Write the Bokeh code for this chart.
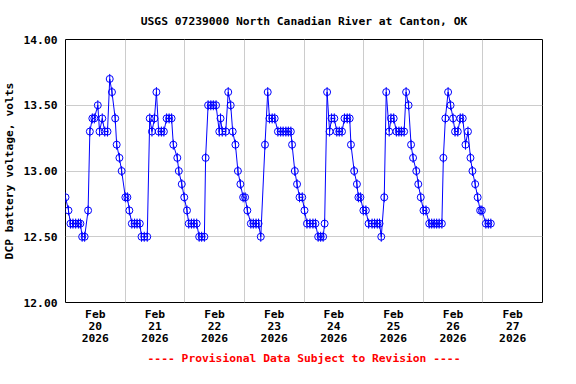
from bokeh.plotting import figure
from bokeh.models import FixedTicker, Range1d, Title, PrintfTickFormatter, ColumnDataSource
from bokeh.embed import file_html
from bokeh.resources import INLINE
import math

# Hours since 2026-02-19 00:00 (local) and DCP battery voltage
hours = [0.0, 1.2, 2.0, 3.0, 4.1, 5.2, 6.0, 6.7, 7.7, 9.1, 9.8, 10.8, 11.6, 13.0, 13.7, 14.8, 15.8, 16.9,
         17.8, 18.7, 20.0, 20.6, 21.7, 22.6, 24.1, 24.9, 25.7, 26.7, 27.8, 28.8, 29.9, 30.6, 31.7, 32.9,
         33.9, 34.8, 35.8, 36.6, 37.5, 38.6, 39.6, 40.7, 41.7, 42.7, 43.4, 45.0, 45.6, 46.8, 47.8, 48.9,
         49.6, 50.7, 51.7, 52.8, 53.8, 54.8, 55.9, 56.4, 57.4, 58.5, 59.5, 60.6, 61.9, 62.4, 63.1, 64.5,
         65.5, 66.5, 67.3, 68.4, 69.4, 70.4, 71.5, 72.3, 73.2, 74.6, 75.6, 76.7, 77.7, 78.6, 80.3, 81.4,
         82.1, 83.2, 84.2, 85.5, 86.6, 87.6, 88.7, 89.7, 90.7, 91.2, 92.3, 93.2, 94.2, 95.3, 96.2, 97.2,
         98.4, 99.6, 100.6, 101.7, 102.7, 103.7, 104.3, 105.3, 106.3, 107.1, 108.2, 109.2, 110.2, 111.3,
         112.3, 113.4, 114.4, 114.9, 116.2, 117.3, 117.9, 118.7, 119.9, 120.9, 122.0, 123.4, 124.4, 125.5,
         126.4, 127.1, 128.3, 129.1, 130.3, 131.0, 132.1, 133.2, 134.2, 135.2, 136.3, 137.1, 138.1, 139.1,
         139.9, 141.2, 142.0, 143.0, 144.1, 145.1, 146.4, 147.4, 148.4, 149.4, 150.4, 151.5, 152.1, 152.9,
         154.0, 155.0, 156.0, 156.8, 157.9, 158.9, 159.9, 161.0, 162.0, 163.0, 163.8, 164.9, 165.9, 166.9,
         167.6, 169.2, 170.2, 171.2]
volts = [12.8, 12.7, 12.6, 12.6, 12.6, 12.6, 12.6, 12.5, 12.5, 12.7, 13.3, 13.4, 13.4, 13.5, 13.3, 13.4, 13.3, 13.3,
         13.7, 13.6, 13.4, 13.2, 13.1, 13.0, 12.8, 12.8, 12.7, 12.6, 12.6, 12.6, 12.6, 12.5, 12.5, 12.5,
         13.4, 13.3, 13.4, 13.6, 13.3, 13.3, 13.3, 13.4, 13.4, 13.4, 13.2, 13.1, 13.0, 12.9, 12.8, 12.7,
         12.6, 12.6, 12.6, 12.6, 12.5, 12.5, 12.5, 13.1, 13.5, 13.5, 13.5, 13.5, 13.3, 13.4, 13.3, 13.3,
         13.6, 13.5, 13.3, 13.2, 13.0, 12.9, 12.8, 12.8, 12.7, 12.6, 12.6, 12.6, 12.6, 12.5, 13.2, 13.6,
         13.4, 13.4, 13.4, 13.3, 13.3, 13.3, 13.3, 13.3, 13.3, 13.2, 13.0, 12.9, 12.8, 12.8, 12.7, 12.6,
         12.6, 12.6, 12.6, 12.5, 12.5, 12.5, 12.6, 13.6, 13.3, 13.4, 13.4, 13.3, 13.3, 13.3,
         13.4, 13.4, 13.4, 13.2, 13.0, 12.9, 12.8, 12.8, 12.7, 12.7, 12.6, 12.6, 12.6, 12.6,
         12.6, 12.5, 12.8, 13.6, 13.3, 13.4, 13.4, 13.3, 13.3, 13.3, 13.3, 13.6, 13.5, 13.2,
         13.1, 13.0, 12.9, 12.8, 12.7, 12.7, 12.6, 12.6, 12.6, 12.6, 12.6, 12.6, 13.1, 13.4,
         13.6, 13.5, 13.4, 13.3, 13.3, 13.4, 13.4, 13.2, 13.3, 13.1, 13.0, 12.9, 12.8, 12.7,
         12.7, 12.6, 12.6, 12.6]

x_start, x_end = 0, 192          # Feb 19 00:00 .. Feb 27 00:00
grid_hours = [24, 48, 72, 96, 120, 144, 168]
label_hours = [12, 36, 60, 84, 108, 132, 156, 180]
label_texts = ["Feb\n20\n2026", "Feb\n21\n2026", "Feb\n22\n2026", "Feb\n23\n2026",
               "Feb\n24\n2026", "Feb\n25\n2026", "Feb\n26\n2026", "Feb\n27\n2026"]
y_ticks = [12.0, 12.5, 13.0, 13.5, 14.0]

title_text = "USGS 07239000 North Canadian River at Canton, OK"
y_label = "DCP battery voltage, volts"
footer_text = "---- Provisional Data Subject to Revision ----"

FONT = "DejaVu Sans Mono"
FS = "11.3px"
BLUE = "#0000ff"

p = figure(width=560, height=368, output_backend="svg", toolbar_location=None,
           x_range=Range1d(x_start, x_end), y_range=Range1d(12, 14),
           min_border_left=64, min_border_right=18, min_border_top=39, min_border_bottom=66,
           background_fill_color="white", border_fill_color="white")

p.title.text = title_text
p.title.align = "center"
p.title.text_font = FONT
p.title.text_font_size = FS
p.title.text_font_style = "bold"
p.title.text_color = "black"
p.title.standoff = 24

src = ColumnDataSource(dict(x=hours, y=volts))
p.line("x", "y", source=src, line_color=BLUE, line_width=1)
p.scatter("x", "y", source=src, marker="circle", size=7, line_color=BLUE, fill_color=None, line_width=1)
p.scatter("x", "y", source=src, marker="dash", size=10, angle=math.pi / 2, line_color=BLUE, line_width=1)

# axes
p.xaxis.ticker = FixedTicker(ticks=label_hours)
p.xaxis.major_label_overrides = {h: t for h, t in zip(label_hours, label_texts)}
p.yaxis.ticker = FixedTicker(ticks=y_ticks)
p.yaxis.formatter = PrintfTickFormatter(format="%.2f")
p.yaxis.axis_label = y_label
p.yaxis.axis_label_standoff = 4

for ax in (p.xaxis, p.yaxis):
    ax.axis_line_color = None
    ax.major_tick_line_color = None
    ax.minor_tick_line_color = None
    ax.major_tick_out = 0
    ax.major_tick_in = 0
    ax.minor_tick_out = 0
    ax.minor_tick_in = 0
    ax.major_label_text_font = FONT
    ax.major_label_text_font_size = FS
    ax.major_label_text_font_style = "bold"
    ax.major_label_text_color = "black"
    ax.major_label_text_line_height = 0.93
    ax.axis_label_text_font = FONT
    ax.axis_label_text_font_size = FS
    ax.axis_label_text_font_style = "bold"
    ax.axis_label_text_color = "black"
    ax.major_label_standoff = 8

p.xaxis.major_label_standoff = 5

p.xgrid.ticker = FixedTicker(ticks=grid_hours)
p.ygrid.ticker = FixedTicker(ticks=y_ticks)
p.grid.grid_line_color = "#cccccc"
p.grid.grid_line_width = 1

p.outline_line_color = "black"
p.outline_line_width = 1

p.add_layout(Title(text=footer_text, align="center", text_color="#ff0000", text_font=FONT,
                   text_font_size=FS, text_font_style="bold", standoff=4), "below")

open("out.html", "w").write(file_html(p, INLINE))
